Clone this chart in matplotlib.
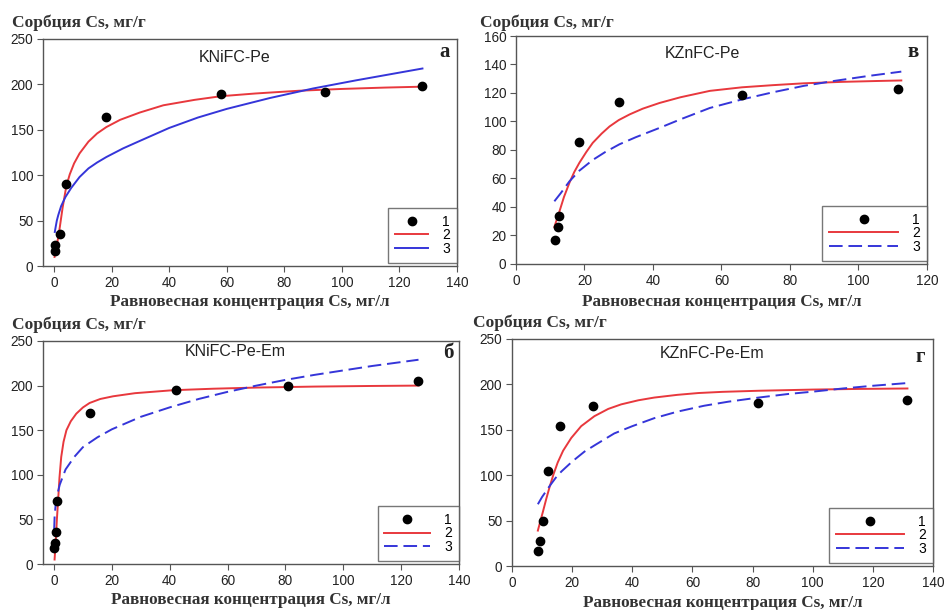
import numpy as np
import matplotlib.pyplot as plt
from matplotlib.lines import Line2D

W, H = 945, 610

# --- KNiFC-Pe (a) ---
a_pts_x = [0.2, 0.4, 2.0, 4.3, 18.2, 58, 94, 128]
a_pts_y = [17, 23, 35, 90, 164, 189, 192, 198]
a_red_x = [0.2, 0.8, 1.4, 2, 3, 4.3, 5.5, 7, 8.9, 12, 15, 18.2, 23, 29.8, 38, 48.9, 58, 70, 85, 100, 115, 128]
a_red_y = [10, 20, 30, 42, 64, 88, 101, 113, 124, 137, 146, 153, 161, 169, 177, 183, 187, 190, 193, 195, 196.5, 197.5]
a_blue_x = [0.3, 0.6, 1, 1.5, 2.5, 4, 6, 8.9, 12, 15, 18.2, 24, 30, 40, 50, 60, 75, 90, 105, 128]
a_blue_y = [37.5, 43, 50, 56, 66, 76, 86, 98, 107.5, 114, 120, 129.5, 138, 152, 163.5, 173, 185, 195.5, 204.5, 217.5]

# --- KZnFC-Pe (в) ---
v_pts_x = [11.4, 12.2, 12.7, 18.5, 30.2, 65.9, 111.5]
v_pts_y = [16.5, 25.9, 33.8, 85.9, 114, 118.4, 122.6]
v_red_x = [11.2, 12.7, 14, 15.6, 17, 18.5, 20.5, 22.4, 25, 27.3, 30, 33.2, 37, 41.9, 48, 56.6, 66, 75, 84, 95, 105, 112.5]
v_red_y = [26, 37, 47, 57, 64.5, 71, 78.5, 85, 91.5, 96.5, 101, 105, 109, 113, 117, 121.5, 124, 125.5, 126.8, 127.8, 128.4, 128.8]
v_blue_x = [11.2, 13, 15.6, 18.5, 22.4, 26, 30.2, 35, 41.9, 48, 56.6, 66, 75, 84, 93, 103, 112.5]
v_blue_y = [44, 49.5, 58, 65.5, 73, 78.5, 84, 89, 95.5, 101.5, 109.5, 115.5, 120.5, 125, 128.5, 132, 135]

# --- KNiFC-Pe-Em (б) ---
b_pts_x = [0.1, 0.2, 0.6, 1.2, 12.6, 42.3, 80.8, 126]
b_pts_y = [18, 23.5, 35.4, 70.8, 168.8, 195.6, 199, 205.3]
b_red_x = [0.2, 0.6, 1.0, 1.4, 1.9, 2.5, 3.3, 4.3, 5.8, 7.7, 10, 12.3, 16, 20.4, 28, 41, 55, 70, 90, 110, 126]
b_red_y = [5, 25, 50, 70, 97, 120, 137, 150, 160, 168.5, 175.5, 180.5, 185, 188, 191.5, 194.8, 196.5, 197.8, 198.9, 199.6, 200]
b_blue_x = [0.05, 0.2, 0.5, 1, 2, 4, 7, 10, 15, 20, 30, 40, 50, 60, 70, 80, 90, 100, 110, 126]
b_blue_y = [38, 52, 64, 76, 89, 106, 120, 131, 142, 151, 165, 175.6, 185, 193, 200, 206.4, 212, 217, 222, 229]

# --- KZnFC-Pe-Em (г) ---
g_pts_x = [8.6, 9.2, 10.3, 11.9, 16.1, 27.1, 81.8, 131.3]
g_pts_y = [16.6, 27.3, 49.4, 104.6, 154.4, 175.7, 180, 183]
g_red_x = [8.6, 9.4, 10.3, 11.4, 12.5, 13.8, 15.2, 17, 19.7, 23, 27.4, 32, 36.3, 42, 47.3, 55, 62, 70, 82, 100, 115, 131.5]
g_red_y = [39, 49, 60, 74, 87, 101, 114, 127, 141, 154, 165, 173, 178, 182.5, 185.5, 188.5, 190.5, 191.8, 193, 194.3, 195, 195.5]
g_blue_x = [8.6, 10, 12.5, 14.5, 16.4, 20, 24.1, 28, 34, 40, 47.3, 55, 63.9, 72, 82, 92, 100, 110, 120, 131.5]
g_blue_y = [68, 76, 88, 97, 104, 115, 126, 134, 146, 154, 162.8, 170, 176.5, 181, 185.5, 189.5, 192, 195.5, 198.5, 201.5]

RED = '#e8383d'
BLUE = '#3535d9'
FRAME = '#555555'
SERIF = 'Liberation Serif'
SANS = 'Liberation Sans'
YLAB = 'Сорбция Cs, мг/г'
XLAB = 'Равновесная концентрация Cs, мг/л'
LW = 1.4
DASH = (7, 3)


def px_rect(x0, y0, x1, y1):
    return [x0 / W, 1 - y1 / H, (x1 - x0) / W, (y1 - y0) / H]


def blue_line(**kw):
    if kw.pop('dashed'):
        return dict(color=BLUE, lw=LW, dashes=DASH, **kw)
    return dict(color=BLUE, lw=LW, **kw)


fig = plt.figure(figsize=(W / 100, H / 100), dpi=100)

panels = [
    dict(rect=(43, 39, 457, 266), xlim=(-3.8, 140), ylim=(0, 250), yt=range(0, 251, 50), xt=range(0, 141, 20),
         pts=(a_pts_x, a_pts_y), red=(a_red_x, a_red_y), blue=(a_blue_x, a_blue_y), dashed=False,
         title='KNiFC-Pe', tpos=(235, 58), letter='а', lpos=(445, 52), ypos=(12, 23), xly=302, hl=2.4),
    dict(rect=(516, 36, 927, 264), xlim=(0, 120), ylim=(0, 160), yt=range(0, 161, 20), xt=range(0, 121, 20),
         pts=(v_pts_x, v_pts_y), red=(v_red_x, v_red_y), blue=(v_blue_x, v_blue_y), dashed=True,
         title='KZnFC-Pe', tpos=(702, 54), letter='в', lpos=(913, 52), ypos=(480, 23), xly=302, hl=5.0),
    dict(rect=(43, 341, 459, 564), xlim=(-3.8, 140), ylim=(0, 250), yt=range(0, 251, 50), xt=range(0, 141, 20),
         pts=(b_pts_x, b_pts_y), red=(b_red_x, b_red_y), blue=(b_blue_x, b_blue_y), dashed=True,
         title='KNiFC-Pe-Em', tpos=(235, 352), letter='б', lpos=(448, 353), ypos=(12, 325), xly=600, hl=3.3),
    dict(rect=(512, 339, 933, 566), xlim=(0, 140), ylim=(0, 250), yt=range(0, 251, 50), xt=range(0, 141, 20),
         pts=(g_pts_x, g_pts_y), red=(g_red_x, g_red_y), blue=(g_blue_x, g_blue_y), dashed=True,
         title='KZnFC-Pe-Em', tpos=(712, 353), letter='г', lpos=(920, 357), ypos=(473, 323), xly=603, hl=4.9),
]

for p in panels:
    ax = fig.add_axes(px_rect(*p['rect']))
    ax.plot(*p['red'], color=RED, lw=LW)
    ax.plot(*p['blue'], **blue_line(dashed=p['dashed']))
    ax.plot(*p['pts'], 'o', color='black', ms=6, mec='black')

    ax.set_xlim(*p['xlim'])
    ax.set_ylim(*p['ylim'])
    ax.set_xticks(list(p['xt']))
    ax.set_yticks(list(p['yt']))
    ax.tick_params(direction='out', length=4, width=0.8, color=FRAME, labelsize=9.8,
                   labelcolor='#222222', pad=3)
    for lab in ax.get_xticklabels() + ax.get_yticklabels():
        lab.set_fontfamily(SANS)
    for s in ax.spines.values():
        s.set_color(FRAME)
        s.set_linewidth(1.0)

    handles = [
        Line2D([], [], ls='none', marker='o', color='black', ms=6),
        Line2D([], [], color=RED, lw=LW),
        Line2D([], [], **blue_line(dashed=p['dashed'])),
    ]
    leg = ax.legend(handles, ['1', '2', '3'], loc='lower right', bbox_to_anchor=(1, 0.015),
                    borderaxespad=0, fancybox=False, handlelength=p['hl'], handletextpad=1.0,
                    labelspacing=-0.05, borderpad=0.5, prop={'family': SANS, 'size': 10})
    leg.get_frame().set_edgecolor(FRAME)
    leg.get_frame().set_linewidth(1.0)

    cx = (p['rect'][0] + p['rect'][2]) / 2
    fig.text(p['tpos'][0] / W, 1 - p['tpos'][1] / H, p['title'], ha='center', va='center',
             family=SANS, fontsize=11.5, color='#222222')
    fig.text(p['lpos'][0] / W, 1 - p['lpos'][1] / H, p['letter'], ha='center', va='center',
             family=SERIF, fontsize=15, fontweight='bold', color='#222222')
    fig.text(p['ypos'][0] / W, 1 - p['ypos'][1] / H, YLAB, ha='left', va='center',
             family=SERIF, fontsize=12.5, fontweight='bold', color='#333333')
    fig.text(cx / W, 1 - p['xly'] / H, XLAB, ha='center', va='center',
             family=SERIF, fontsize=12.3, fontweight='bold', color='#333333')

fig.savefig('out.png', dpi=100, facecolor='white')
